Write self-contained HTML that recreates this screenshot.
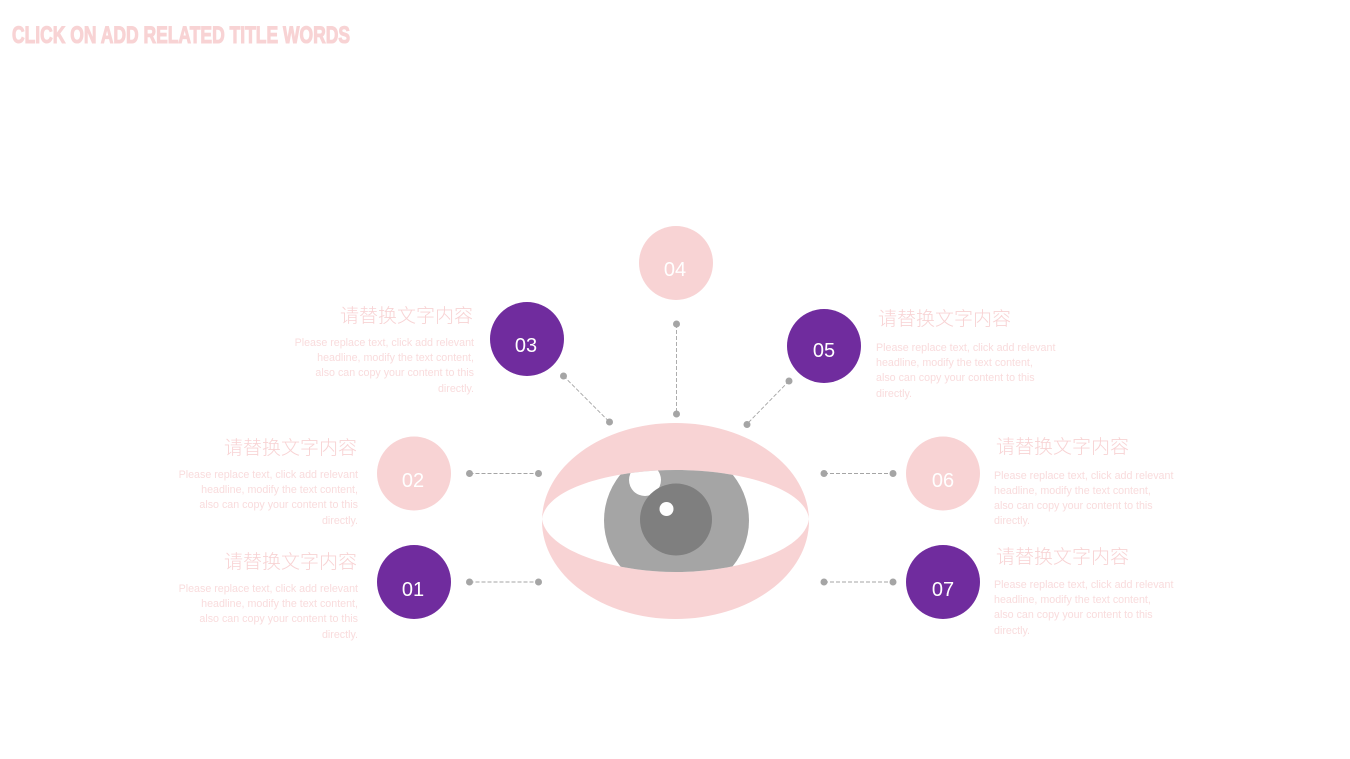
<!DOCTYPE html>
<html><head><meta charset="utf-8"><style>
html,body{margin:0;padding:0;background:#fff;width:1350px;height:759px;overflow:hidden}
svg{display:block}
.h{font:19px "Noto Sans CJK SC","WenQuanYi Zen Hei",sans-serif;fill:#f8d3d4;font-weight:300}
.t{font:10.7px "Liberation Sans",sans-serif;fill:#f9dcdd}
.n{font:20px "Liberation Sans",sans-serif;fill:#fff;text-anchor:middle}
.l{stroke:#a5a5a5;stroke-width:.9;stroke-dasharray:4 2;fill:none}
.d{fill:#a5a5a5}
.e{text-anchor:end}
</style></head><body>
<svg width="1350" height="759" viewBox="0 0 1350 759" xmlns="http://www.w3.org/2000/svg">
<defs><clipPath id="a"><path d="M542 519C546 488 612 470 676 470C740 470 805 488 809 519C805 550 740 572 676 572C612 572 546 550 542 519Z"/></clipPath></defs>
<rect width="1350" height="759" fill="#fff"/>
<text x="12" y="43" textLength="338" lengthAdjust="spacingAndGlyphs" style="font:bold 24px 'Liberation Sans',sans-serif;fill:#f8d3d4;stroke:#f8d3d4;stroke-width:1.1">CLICK ON ADD RELATED TITLE WORDS</text>

<ellipse cx="675.5" cy="521" rx="133.5" ry="98" fill="#f8d3d4"/>
<path d="M542 519C546 488 612 470 676 470C740 470 805 488 809 519C805 550 740 572 676 572C612 572 546 550 542 519Z" fill="#fff"/>
<g clip-path="url(#a)">
<circle cx="676.5" cy="520.5" r="72.5" fill="#a5a5a5"/>
<circle cx="645" cy="480" r="16" fill="#fff"/>
</g>
<circle cx="676" cy="519.500" r="36" fill="#7f7f7f"/>
<circle cx="666.500" cy="509" r="7" fill="#fff"/>

<path class="l" d="M469.500 473.500H538.500M469.500 582H538.500M824 473.500H893M824 582H893M676.500 324V414M563.500 376L609.500 422M789 381L747 424"/>
<g class="d">
<circle cx="469.500" cy="473.500" r="3.500"/><circle cx="538.500" cy="473.500" r="3.500"/>
<circle cx="469.500" cy="582" r="3.500"/><circle cx="538.500" cy="582" r="3.500"/>
<circle cx="824" cy="473.500" r="3.500"/><circle cx="893" cy="473.500" r="3.500"/>
<circle cx="824" cy="582" r="3.500"/><circle cx="893" cy="582" r="3.500"/>
<circle cx="676.500" cy="324" r="3.500"/><circle cx="676.500" cy="414" r="3.500"/>
<circle cx="563.500" cy="376" r="3.500"/><circle cx="609.500" cy="422" r="3.500"/>
<circle cx="789" cy="381" r="3.500"/><circle cx="747" cy="424.500" r="3.500"/>
</g>

<circle cx="414" cy="582" r="37" fill="#702c9e"/><text class="n" x="413" y="596">01</text>
<circle cx="414" cy="473.500" r="37" fill="#f8d3d4"/><text class="n" x="413" y="487">02</text>
<circle cx="527" cy="339" r="37" fill="#702c9e"/><text class="n" x="526" y="352">03</text>
<circle cx="676" cy="263" r="37" fill="#f8d3d4"/><text class="n" x="675" y="276">04</text>
<circle cx="824" cy="346" r="37" fill="#702c9e"/><text class="n" x="824" y="357">05</text>
<circle cx="943" cy="473.500" r="37" fill="#f8d3d4"/><text class="n" x="943" y="487">06</text>
<circle cx="943" cy="582" r="37" fill="#702c9e"/><text class="n" x="943" y="596">07</text>

<text class="h" x="340" y="322" textLength="133">请替换文字内容</text>
<text class="t e" x="474" y="346">Please replace text, click add relevant</text>
<text class="t e" x="474" y="361">headline, modify the text content,</text>
<text class="t e" x="474" y="376">also can copy your content to this</text>
<text class="t e" x="474" y="392">directly.</text>

<text class="h" x="224" y="454" textLength="133">请替换文字内容</text>
<text class="t e" x="358" y="478">Please replace text, click add relevant</text>
<text class="t e" x="358" y="493">headline, modify the text content,</text>
<text class="t e" x="358" y="508">also can copy your content to this</text>
<text class="t e" x="358" y="524">directly.</text>

<text class="h" x="224" y="568" textLength="133">请替换文字内容</text>
<text class="t e" x="358" y="592">Please replace text, click add relevant</text>
<text class="t e" x="358" y="607">headline, modify the text content,</text>
<text class="t e" x="358" y="622">also can copy your content to this</text>
<text class="t e" x="358" y="638">directly.</text>

<text class="h" x="878" y="325" textLength="133">请替换文字内容</text>
<text class="t" x="876" y="351">Please replace text, click add relevant</text>
<text class="t" x="876" y="366">headline, modify the text content,</text>
<text class="t" x="876" y="381">also can copy your content to this</text>
<text class="t" x="876" y="397">directly.</text>

<text class="h" x="996" y="453" textLength="133">请替换文字内容</text>
<text class="t" x="994" y="479">Please replace text, click add relevant</text>
<text class="t" x="994" y="494">headline, modify the text content,</text>
<text class="t" x="994" y="509">also can copy your content to this</text>
<text class="t" x="994" y="524">directly.</text>

<text class="h" x="996" y="563" textLength="133">请替换文字内容</text>
<text class="t" x="994" y="588">Please replace text, click add relevant</text>
<text class="t" x="994" y="603">headline, modify the text content,</text>
<text class="t" x="994" y="618">also can copy your content to this</text>
<text class="t" x="994" y="634">directly.</text>
</svg>
</body></html>
